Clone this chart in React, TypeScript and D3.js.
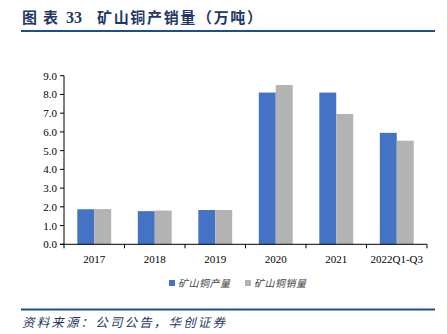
import React from "react";
import * as d3 from "d3";

const categories = ["2017", "2018", "2019", "2020", "2021", "2022Q1-Q3"];
const production = [1.87, 1.77, 1.83, 8.1, 8.1, 5.95];
const sales = [1.88, 1.8, 1.83, 8.5, 6.96, 5.53];
const yTicks = [0, 1, 2, 3, 4, 5, 6, 7, 8, 9];
const seriesNames = ["矿山铜产量", "矿山铜销量"];
const colors = ["#4472C4", "#B3B3B3"];

export default function App() {
  const W = 447, H = 334;
  const x0 = 64, x1 = 427, yTop = 75.7, yBot = 244.3;
  const x = d3.scaleBand().domain(categories).range([x0, x1]).paddingInner(0).paddingOuter(0);
  const y = d3.scaleLinear().domain([0, 9]).range([yBot, yTop]);
  const bw = x.bandwidth();
  const barW = bw * 0.28;
  const groupOff = (bw - barW * 2) / 2;
  const serif = "'Liberation Serif', 'Times New Roman', serif";
  const cjk = "'Noto Sans CJK SC', sans-serif";
  return (
    <svg width={W} height={H} style={{ position: "absolute", left: 0, top: 0, background: "#fff" }}>
      <g fill="#1F3864" fontWeight="bold" fontSize={15}>
        <text x={22} y={23} fontFamily={cjk} textLength={36} lengthAdjust="spacing">图表</text>
        <text x={66} y={23} fontFamily={serif} fontSize={16}>33</text>
        <text x={97} y={23} fontFamily={cjk} textLength={165} lengthAdjust="spacing">矿山铜产销量（万吨）</text>
      </g>
      <line x1={21} x2={435} y1={31} y2={31} stroke="#1F4E8C" strokeWidth={2} />
      {categories.map((c, i) => (
        <g key={c}>
          <rect x={(x(c) as number) + groupOff} y={y(production[i])} width={barW} height={yBot - y(production[i])} fill={colors[0]} />
          <rect x={(x(c) as number) + groupOff + barW} y={y(sales[i])} width={barW} height={yBot - y(sales[i])} fill={colors[1]} />
        </g>
      ))}
      <line x1={x0} x2={x0} y1={yTop} y2={yBot} stroke="#000" strokeWidth={1} />
      {yTicks.map((t) => (
        <g key={t}>
          <line x1={x0 - 4} x2={x0} y1={y(t)} y2={y(t)} stroke="#000" />
          <text x={x0 - 7} y={y(t) + 4} textAnchor="end" fontSize={11} fontFamily={serif} fill="#000">
            {t.toFixed(1)}
          </text>
        </g>
      ))}
      <line x1={x0 - 4} x2={x1} y1={yBot} y2={yBot} stroke="#000" strokeWidth={1} />
      {[...categories.map((c) => x(c) as number), x1].map((px, i) => (
        <line key={i} x1={px} x2={px} y1={yBot} y2={yBot + 4} stroke="#000" />
      ))}
      {categories.map((c) => (
        <text key={c} x={(x(c) as number) + bw / 2} y={263} textAnchor="middle" fontSize={11} fontFamily={serif} fill="#000">
          {c}
        </text>
      ))}
      {seriesNames.map((s, i) => (
        <g key={s} transform={`translate(${169 + i * 76},0)`}>
          <rect x={0} y={280} width={6} height={6} fill={colors[i]} />
          <text x={9} y={287} fontSize={10} fontStyle="italic" fontFamily={cjk} fill="#444" textLength={52} lengthAdjust="spacing">{s}</text>
        </g>
      ))}
      <line x1={21} x2={435} y1={309.5} y2={309.5} stroke="#1F4E8C" strokeWidth={2} />
      <text x={22} y={327} fontSize={12.5} fontStyle="italic" fontFamily={cjk} fill="#1F3864" textLength={203} lengthAdjust="spacing">
        资料来源：公司公告，华创证券
      </text>
    </svg>
  );
}
